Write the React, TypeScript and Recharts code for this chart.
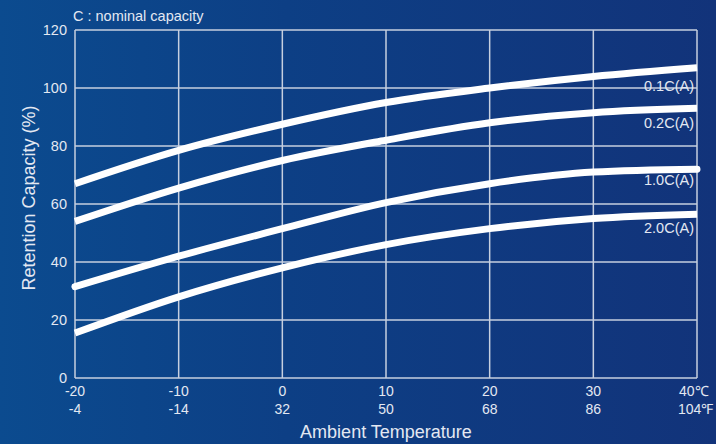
import React from 'react';
import { LineChart, Line, XAxis, YAxis, CartesianGrid, LabelList } from 'recharts';

// temperatures in °C and the °F row as printed
const tempC = [-20, -10, 0, 10, 20, 30, 40];
const tempF = [-4, -14, 32, 50, 68, 86, 104];
const yTicks = [0, 20, 40, 60, 80, 100, 120];

// retention capacity (%) at each temperature
const c01 = [67, 78.5, 87.5, 95, 100, 104, 107];
const c02 = [54, 65.5, 75, 82, 88, 91.5, 93];
const c10 = [31.5, 42, 51.5, 60.5, 67, 71, 72];
const c20 = [15.5, 28, 38, 46, 51.5, 55, 56.5];

const seriesNames = ['0.1C(A)', '0.2C(A)', '1.0C(A)', '2.0C(A)'];
const labelDy = [18, 15, 11, 14];

const data = tempC.map((t, i) => ({
  t,
  c01: c01[i],
  c02: c02[i],
  c10: c10[i],
  c20: c20[i],
}));

const FONT = '"Liberation Sans", Arial, sans-serif';
const TEXT = '#e3e8f2';

const XTick = (props: any) => {
  const { x, y, payload } = props;
  const i = tempC.indexOf(payload.value);
  const last = i === tempC.length - 1;
  return (
    <g>
      <text x={last ? x - 18 : x} y={y + 10} textAnchor={last ? 'start' : 'middle'} fill={TEXT} fontSize={14} fontFamily={FONT}>
        {last ? `${payload.value}℃` : payload.value}
      </text>
      <text x={last ? x - 19 : x} y={y + 28} textAnchor={last ? 'start' : 'middle'} fill={TEXT} fontSize={14} fontFamily={FONT}>
        {last ? `${tempF[i]}℉` : tempF[i]}
      </text>
    </g>
  );
};

const endLabel = (k: number) => (props: any) => {
  const { x, y, index } = props;
  if (index !== tempC.length - 1) return null;
  return (
    <text x={x - 3} y={y + labelDy[k]} dy={5} textAnchor="end" fill={TEXT} fontSize={14.5} fontFamily={FONT}>
      {seriesNames[k]}
    </text>
  );
};

export default function App() {
  const keys = ['c01', 'c02', 'c10', 'c20'];
  return (
    <div
      style={{
        position: 'absolute',
        left: 0,
        top: 0,
        width: 716,
        height: 444,
        background: 'linear-gradient(90deg, #0b4b8f 0%, #0d3f85 40%, #12337a 100%)',
        fontFamily: FONT,
      }}
    >
      <LineChart width={716} height={444} data={data} margin={{ top: 30, right: 19, left: 35, bottom: 16 }}>
        <CartesianGrid stroke="#c6cfdf" strokeWidth={1.5} />
        <XAxis
          dataKey="t"
          type="number"
          domain={[-20, 40]}
          ticks={tempC}
          tickLine={false}
          axisLine={false}
          height={50}
          tick={<XTick />}
          interval={0}
        />
        <YAxis
          type="number"
          domain={[0, 120]}
          ticks={yTicks}
          width={40}
          tickLine={false}
          axisLine={false}
          tickSize={0}
          tickMargin={8}
          tick={{ fill: TEXT, fontSize: 14.5, fontFamily: FONT }}
          interval={0}
        />
        {keys.map((k, i) => (
          <Line
            key={k}
            type="monotone"
            dataKey={k}
            stroke="#ffffff"
            strokeWidth={7}
            strokeLinecap={i === 2 ? 'round' : 'butt'}
            dot={false}
            isAnimationActive={false}
          >
            <LabelList dataKey={k} content={endLabel(i)} />
          </Line>
        ))}
        <text x={73} y={21} fill={TEXT} fontSize={14.5} fontFamily={FONT}>
          C : nominal capacity
        </text>
        <text
          x={30}
          y={198}
          transform="rotate(-90 30 198)"
          textAnchor="middle"
          dominantBaseline="middle"
          fill={TEXT}
          fontSize={18}
          fontFamily={FONT}
        >
          Retention Capacity (%)
        </text>
        <text x={386} y={438} textAnchor="middle" fill={TEXT} fontSize={18} fontFamily={FONT}>
          Ambient Temperature
        </text>
      </LineChart>
    </div>
  );
}
